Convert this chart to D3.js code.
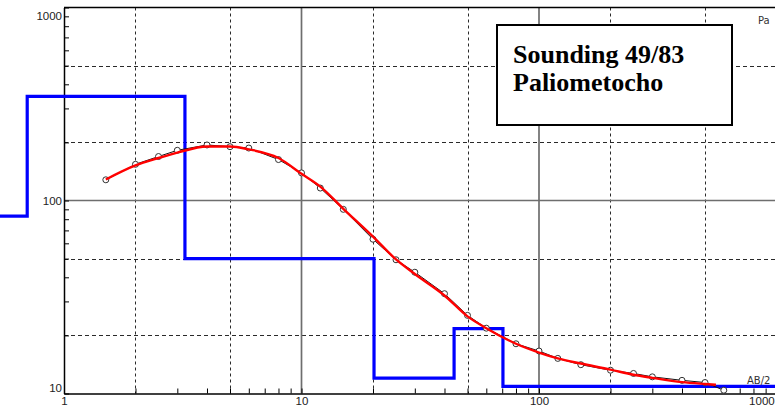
<!DOCTYPE html>
<html>
<head>
<meta charset="utf-8">
<script src="https://cdn.jsdelivr.net/npm/d3@7"></script>
<style>
  html, body { margin: 0; padding: 0; background: #fff; overflow: hidden; }
  svg { display: block; }
</style>
</head>
<body>
<svg id="chart" width="775" height="412"></svg>
<script>
// Vertical electrical sounding 49/83 — field data, model response, layered model
const abHalf   = [1.5, 2, 2.5, 3, 4, 5, 6, 8, 10, 12, 15, 20, 25, 30, 40, 50, 60, 80, 100, 120, 150, 200, 250, 300, 400, 500, 600];
const measured = [128, 154, 169, 182, 194, 190, 187, 163, 139, 116, 90, 63, 49.3, 42.5, 32.9, 25.4, 21.8, 18.1, 16.6, 15.2, 14.1, 13.2, 12.7, 12.2, 11.7, 11.4, 10.4];

const fitAB    = [1.5, 2, 2.5, 3, 4, 5, 6, 8, 10, 12, 15, 20, 25, 30, 40, 50, 60, 80, 100, 120, 150, 200, 250, 300, 400, 500, 556];
const fitRho   = [128.5, 152, 166, 177, 190.5, 190.5, 184, 166, 137.5, 118, 90.6, 65, 49.5, 41.6, 32.2, 25.1, 21.8, 18.1, 16.3, 15.2, 14.3, 13.3, 12.5, 12.05, 11.45, 11.2, 11.1];

// layered model: resistivity of each layer and depth of each boundary
const layerRes   = [83, 346, 50, 12, 21.7, 10.9];
const layerDepth = [0.7, 3.23, 20.2, 43.9, 70.5];

const xTicksMajor = [1, 10, 100, 1000];
const xTickLabels = ["1", "10", "100", "1000"];
const yTicksMajor = [10, 100, 1000];
const yTickLabels = ["10", "100", "1000"];
const xDashed = [2, 5, 20, 50, 200, 500];
const yDashed = [20, 50, 200, 500];

const svg = d3.select("#chart");
const W = 775, H = 412;

const x = d3.scaleLog().domain([1, 1000]).range([64, 776.5]);
const y = d3.scaleLog().domain([10, 1000]).range([393.5, 7.5]);

const plotTop = y(1000), plotBottom = y(10), plotLeft = x(1);

// minor tick positions for each decade
const minorX = [];
[1, 10, 100].forEach(d => { for (let k = 2; k <= 9; k++) minorX.push(d * k); });
const minorY = [];
[10, 100].forEach(d => { for (let k = 2; k <= 9; k++) minorY.push(d * k); });

// grid: dashed at 2 and 5 of each decade, solid at decades
const grid = svg.append("g");
grid.selectAll("line.vd").data(xDashed).join("line")
  .attr("x1", d => Math.round(x(d)) + 0.5).attr("x2", d => Math.round(x(d)) + 0.5)
  .attr("y1", plotTop).attr("y2", plotBottom)
  .attr("stroke", "#2a2a2a").attr("stroke-width", 1).attr("stroke-dasharray", "3,3");
grid.selectAll("line.hd").data(yDashed).join("line")
  .attr("y1", d => Math.round(y(d)) + 0.5).attr("y2", d => Math.round(y(d)) + 0.5)
  .attr("x1", plotLeft).attr("x2", W)
  .attr("stroke", "#2a2a2a").attr("stroke-width", 1).attr("stroke-dasharray", "4,3");
grid.selectAll("line.vs").data([10, 100]).join("line")
  .attr("x1", d => x(d)).attr("x2", d => x(d))
  .attr("y1", plotTop).attr("y2", plotBottom)
  .attr("stroke", "#6e6e6e").attr("stroke-width", 1.7);
grid.selectAll("line.hs").data([100]).join("line")
  .attr("y1", d => y(d)).attr("y2", d => y(d))
  .attr("x1", plotLeft).attr("x2", W)
  .attr("stroke", "#6e6e6e").attr("stroke-width", 1.7);

// axes
const yAxis = d3.axisLeft(y).tickValues(minorY.concat(yTicksMajor))
  .tickSizeInner(-5).tickSizeOuter(0).tickPadding(2)
  .tickFormat(d => { const i = yTicksMajor.indexOf(d); return i >= 0 ? yTickLabels[i] : ""; });
const gy = svg.append("g").attr("transform", `translate(${plotLeft},0)`).call(yAxis);
gy.select(".domain").attr("stroke", "#000").attr("stroke-width", 1.5);
gy.selectAll(".tick line").attr("stroke", "#000");
gy.selectAll(".tick text")
  .attr("font-family", "'Liberation Sans', Arial, sans-serif").attr("font-size", 11.5).attr("fill", "#222")
  .attr("dy", d => d === 1000 ? "1.05em" : d === 10 ? "-0.2em" : "0.38em");

const xAxis = d3.axisBottom(x).tickValues(minorX.concat(xTicksMajor))
  .tickSizeInner(-5).tickSizeOuter(0).tickPadding(3)
  .tickFormat(d => { const i = xTicksMajor.indexOf(d); return i >= 0 ? xTickLabels[i] : ""; });
const gx = svg.append("g").attr("transform", `translate(0,${plotBottom})`).call(xAxis);
gx.select(".domain").attr("stroke", "#000").attr("stroke-width", 1.5);
gx.selectAll(".tick line").attr("stroke", "#000");
gx.selectAll(".tick text")
  .attr("font-family", "'Liberation Sans', Arial, sans-serif").attr("font-size", 11.5).attr("fill", "#222")
  .attr("text-anchor", d => d === 1000 ? "end" : "middle")
  .attr("dx", d => d === 1000 ? "-0.2em" : 0);

// top frame
svg.append("line").attr("x1", plotLeft).attr("x2", W).attr("y1", plotTop).attr("y2", plotTop)
  .attr("stroke", "#000").attr("stroke-width", 1.5);

// layered model as a step line
const steps = [];
let prevX = 0.5;
layerRes.forEach((r, i) => {
  const nextX = i < layerDepth.length ? layerDepth[i] : 1500;
  steps.push([prevX, r], [nextX, r]);
  prevX = nextX;
});
svg.append("path")
  .attr("d", d3.line().x(d => x(d[0])).y(d => y(d[1]))(steps))
  .attr("fill", "none").attr("stroke", "#0000ff").attr("stroke-width", 3.2);

// measured apparent resistivity
const meas = abHalf.map((a, i) => [a, measured[i]]);
svg.append("path")
  .attr("d", d3.line().x(d => x(d[0])).y(d => y(d[1]))(meas))
  .attr("fill", "none").attr("stroke", "#111").attr("stroke-width", 1);
svg.append("g").selectAll("circle").data(meas).join("circle")
  .attr("cx", d => x(d[0])).attr("cy", d => y(d[1])).attr("r", 3)
  .attr("fill", "#fff").attr("stroke", "#333").attr("stroke-width", 1);

// model response curve
const fit = fitAB.map((a, i) => [a, fitRho[i]]);
svg.append("path")
  .attr("d", d3.line().x(d => x(d[0])).y(d => y(d[1])).curve(d3.curveMonotoneX)(fit))
  .attr("fill", "none").attr("stroke", "#ff0000").attr("stroke-width", 2.4);

// corner captions
svg.append("text").attr("x", 758).attr("y", 24).text("Pa")
  .attr("font-family", "'DejaVu Sans', Verdana, sans-serif").attr("font-size", 10).attr("fill", "#333");
svg.append("text").attr("x", 747).attr("y", 384).text("AB/2")
  .attr("font-family", "'DejaVu Sans', Verdana, sans-serif").attr("font-size", 10).attr("fill", "#333");

// title box
const box = svg.append("g");
box.append("rect").attr("x", 497).attr("y", 25).attr("width", 235).attr("height", 100)
  .attr("fill", "#fff").attr("stroke", "#000").attr("stroke-width", 2);
box.append("text").attr("x", 513).attr("y", 63).text("Sounding 49/83")
  .attr("font-family", "'Liberation Serif', 'Times New Roman', serif").attr("font-weight", "bold")
  .attr("font-size", 26).attr("fill", "#000");
box.append("text").attr("x", 513).attr("y", 91).text("Paliometocho")
  .attr("font-family", "'Liberation Serif', 'Times New Roman', serif").attr("font-weight", "bold")
  .attr("font-size", 26).attr("fill", "#000");
</script>
</body>
</html>
